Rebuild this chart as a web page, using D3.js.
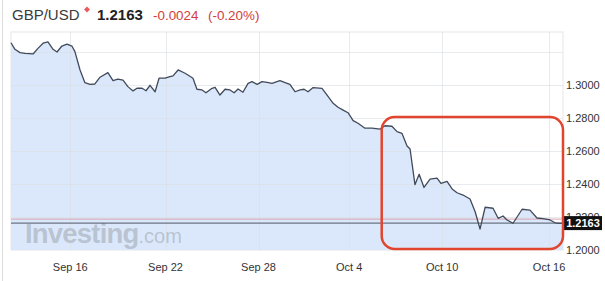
<!DOCTYPE html>
<html><head><meta charset="utf-8">
<script src="https://cdn.jsdelivr.net/npm/d3@7"></script>
<style>
html,body{margin:0;padding:0;background:#fff;}
svg{display:block;font-family:"Liberation Sans",Arial,Helvetica,sans-serif;}
</style></head>
<body>
<svg id="c" width="605" height="281"></svg>
<script>
// ---- data ----
const symbol = "GBP/USD";
const lastPrice = 1.2163;
const change = "-0.0024";
const changePct = "(-0.20%)";
const prevClose = 1.2187;
// trading-day index (0 = Sep 16) and close values
const days = [-2.55,-2.38,-2.16,-1.95,-1.60,-1.39,-1.17,-0.96,-0.74,-0.57,-0.36,-0.14,0.07,0.20,0.42,0.63,0.85,1.06,1.28,1.62,1.84,2.05,2.27,2.48,2.70,2.87,3.09,3.26,3.43,3.65,3.82,4.08,4.29,4.42,4.64,4.94,5.28,5.45,5.67,5.84,6.10,6.23,6.44,6.66,6.87,7.05,7.22,7.43,7.65,7.82,8.04,8.25,8.47,8.68,9.02,9.33,9.45,9.67,9.89,10.06,10.23,10.45,10.83,11.05,11.31,11.52,11.74,11.95,12.17,12.38,12.68,12.98,13.33,13.54,13.84,14.06,14.27,14.49,14.62,14.83,15.01,15.22,15.48,15.78,15.95,16.21,16.43,16.64,16.90,17.20,17.42,17.63,17.85,18.19,18.41,18.62,18.79,19.05,19.44,19.78,20.08,20.34,20.64,20.86,21.07,21.20];
const values = [1.3256,1.3216,1.3196,1.3192,1.3188,1.3222,1.3253,1.3261,1.3216,1.3200,1.3236,1.3248,1.3236,1.3202,1.3091,1.3014,1.3004,1.3006,1.3047,1.3075,1.3026,1.3036,1.3030,1.2990,1.2964,1.2980,1.2980,1.2965,1.2998,1.2959,1.3041,1.3041,1.3050,1.3055,1.3091,1.3071,1.3041,1.2974,1.2970,1.2953,1.2980,1.2986,1.2939,1.2974,1.2970,1.2953,1.2976,1.2956,1.3010,1.3020,1.3004,1.3020,1.3016,1.3010,1.3026,1.3010,1.3004,1.2959,1.2970,1.2974,1.2959,1.2984,1.2980,1.2939,1.2889,1.2865,1.2848,1.2832,1.2784,1.2768,1.2738,1.2738,1.2733,1.2753,1.2750,1.2717,1.2707,1.2630,1.2612,1.2396,1.2459,1.2379,1.2429,1.2435,1.2404,1.2416,1.2370,1.2347,1.2333,1.2309,1.2232,1.2127,1.2259,1.2253,1.2192,1.2206,1.2182,1.2162,1.2247,1.2242,1.2194,1.2190,1.2182,1.2165,1.2161,1.2163];
const tickLabels = ["Sep 16","Sep 22","Sep 28","Oct 4","Oct 10","Oct 16"];
const tickDays = [0,4.1,8.1,12,16,20.6];
const yTicks = [1.20,1.22,1.24,1.26,1.28,1.30];
const yGrid = [1.22,1.24,1.26,1.28,1.30,1.32];
// highlighted range (trading days / price)
const boxDays = [13.4, 21.2];
const boxValues = [1.2006, 1.2806];

// ---- layout ----
const svg = d3.select("#c");
const L = 11, R = 563, T = 32, B = 250;
const x = d3.scaleLinear().domain([-2.55, 21.2]).range([L, R]);
const y = d3.scaleLinear().domain([1.20, 1.3321]).range([B, T]);
const pts = days.map((d,i)=>({d, v: values[i]}));

// outer panel left border
svg.append("line").attr("x1",2.5).attr("x2",2.5).attr("y1",0).attr("y2",281)
  .attr("stroke","#dcdcdc").attr("stroke-width",1);

// title
const title = svg.append("text").attr("x",12).attr("y",20);
title.append("tspan").text(symbol).attr("font-size",15).attr("fill","#3a3a3a");
svg.append("path").attr("d","M87,6.5 L90,9.5 L87,12.5 L84,9.5 Z").attr("fill","#e8484c").attr("opacity",0.9);
svg.append("text").attr("x",97).attr("y",20).attr("font-size",15).attr("font-weight","bold")
  .attr("fill","#222").text(lastPrice.toFixed(4));
svg.append("text").attr("x",153).attr("y",20).attr("font-size",13.4).attr("fill","#d23c3c").text(change);
svg.append("text").attr("x",208).attr("y",20).attr("font-size",13.4).attr("fill","#d23c3c").text(changePct);

// plot background
svg.append("rect").attr("x",L).attr("y",T).attr("width",R-L).attr("height",B-T)
  .attr("fill","#fff").attr("stroke","#e6e6e6");

// area
const area = d3.area().x(p=>x(p.d)).y0(B).y1(p=>y(p.v));
svg.append("path").datum(pts).attr("d",area).attr("fill","#dbe8fb");

// grid
svg.append("g").selectAll("line").data(yGrid).join("line")
  .attr("x1",L).attr("x2",R).attr("y1",d=>Math.round(y(d))+0.5).attr("y2",d=>Math.round(y(d))+0.5)
  .attr("stroke","#d9dde3").attr("stroke-opacity",0.6);
svg.append("g").selectAll("line").data(tickDays).join("line")
  .attr("x1",d=>Math.round(x(d))+0.5).attr("x2",d=>Math.round(x(d))+0.5).attr("y1",T).attr("y2",B)
  .attr("stroke","#d9dde3").attr("stroke-opacity",0.6);

// watermark
const wm = svg.append("text").attr("x",25).attr("y",243).attr("fill","#aab3be").attr("fill-opacity",0.7);
wm.append("tspan").text("Investing").attr("font-size",27.5).attr("font-weight","bold").attr("letter-spacing",-0.8);
wm.append("tspan").text(".com").attr("font-size",20);

// prev close & last price lines
svg.append("line").attr("x1",L).attr("x2",R).attr("y1",y(prevClose)).attr("y2",y(prevClose))
  .attr("stroke","#d8a3b2").attr("stroke-width",1);
svg.append("line").attr("x1",L).attr("x2",R).attr("y1",y(lastPrice)).attr("y2",y(lastPrice))
  .attr("stroke","#4e5666").attr("stroke-width",1);

// price line
const line = d3.line().x(p=>x(p.d)).y(p=>y(p.v));
svg.append("path").datum(pts).attr("d",line).attr("fill","none")
  .attr("stroke","#414a5a").attr("stroke-width",1.3).attr("stroke-linejoin","round");

// y axis labels
svg.append("g").selectAll("text").data(yTicks).join("text")
  .attr("x",566).attr("y",d=>y(d)+4).attr("font-size",11).attr("fill","#333")
  .text(d=>d.toFixed(4));

// x axis labels
svg.append("g").selectAll("text").data(tickDays).join("text")
  .attr("x",d=>x(d)).attr("y",271).attr("text-anchor","middle").attr("font-size",11).attr("fill","#333")
  .text((d,i)=>tickLabels[i]);

// price tag
const ty = y(lastPrice);
svg.append("rect").attr("x",564).attr("y",ty-7).attr("width",38).attr("height",14).attr("fill","#111");
svg.append("text").attr("x",583).attr("y",ty+4).attr("text-anchor","middle").attr("font-size",11)
  .attr("font-weight","bold").attr("fill","#fff").text(lastPrice.toFixed(4));

// highlight box
svg.append("rect").attr("x",x(boxDays[0])).attr("y",y(boxValues[1]))
  .attr("width",x(boxDays[1])-x(boxDays[0])).attr("height",y(boxValues[0])-y(boxValues[1]))
  .attr("rx",13).attr("fill","none").attr("stroke","#e2452f").attr("stroke-width",2.5);
</script>
</body></html>
